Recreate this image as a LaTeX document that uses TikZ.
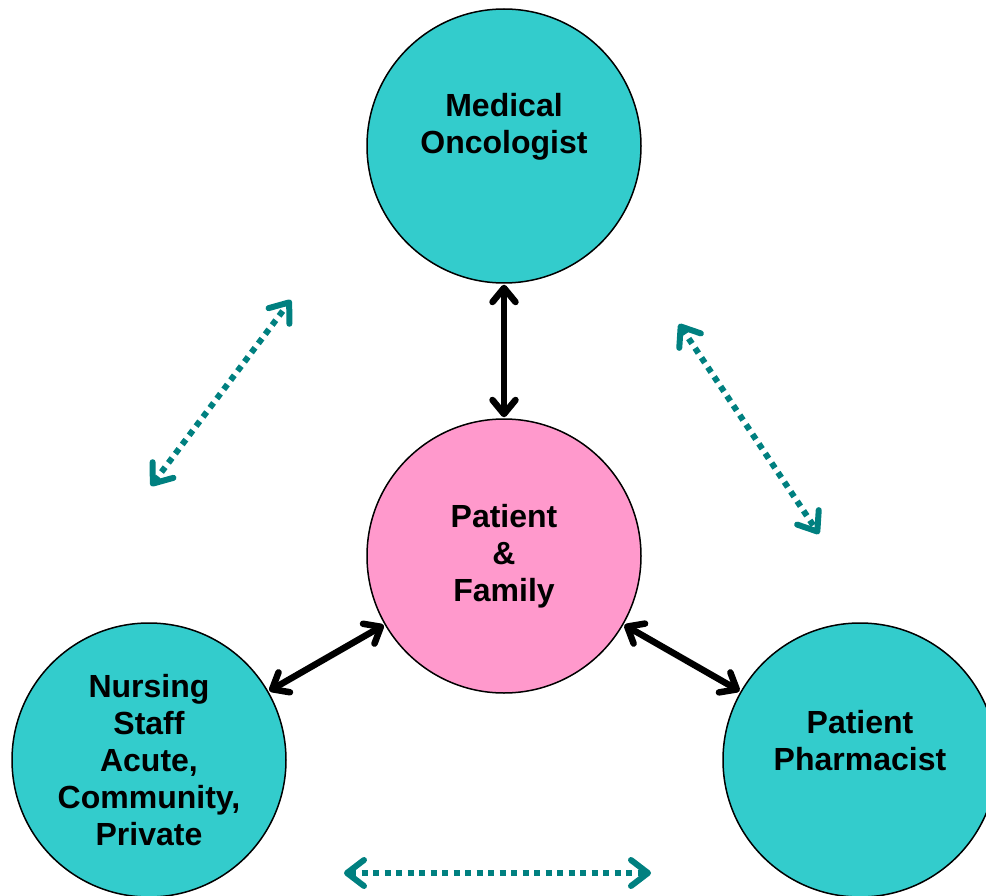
\documentclass[tikz,border=0pt]{standalone}
\usepackage{fontspec}
\setmainfont{Liberation Sans}
\usepackage{tikz}
\usepackage{xcolor}
\usetikzlibrary{positioning,arrows.meta}

\definecolor{teamcyan}{HTML}{33CCCC}
\definecolor{patpink}{HTML}{FF99CC}
\definecolor{linkteal}{HTML}{008080}

\begin{document}
\begin{tikzpicture}[x=1pt,y=-1pt]
\tikzstyle{every node}+=[inner sep=0pt, align=center, font=\fontsize{32}{37}\selectfont\bfseries]
\tikzstyle{member}=[circle, draw=black, line width=1.5pt, minimum size=274pt]
\tikzstyle{care}=[line width=6.5pt, {Straight Barb[length=14pt,width=23pt,line cap=round,line join=round]}-{Straight Barb[length=14pt,width=23pt,line cap=round,line join=round]}, shorten <=1pt, shorten >=1pt]
\tikzstyle{link}=[linkteal, line width=6pt, dash pattern=on 6pt off 5.5pt, {Straight Barb[length=17pt,width=26pt,line cap=round,line join=round]}-{Straight Barb[length=17pt,width=26pt,line cap=round,line join=round]}]
\useasboundingbox (0,0) rectangle (986,896);
% the team
\node [member, fill=teamcyan] (onc) at (504,146) {};
\node at ([yshift=19pt]onc.center) {Medical\\Oncologist};
\node [member, fill=patpink] (pat) at (504,556) {Patient\\\&\\Family};
\node [member, fill=teamcyan] (nurse) at (149,760) {Nursing\\Staff\\Acute,\\Community,\\Private};
\node [member, fill=teamcyan] (pharm) at (860,760) {};
\node at ([yshift=19pt]pharm.center) {Patient\\Pharmacist};
% patient links
\draw [care] (onc) -- (pat);
\draw [care] (pat) -- (nurse);
\draw [care] (pat) -- (pharm);
% links between the team
\coordinate (l1) at (151,486);
\coordinate (l2) at (291,300);
\coordinate (r1) at (679,324);
\coordinate (r2) at (819,534);
\coordinate (b1) at (344,873);
\coordinate (b2) at (651,873);
\draw [link] (l1) -- (l2);
\draw [link] (r1) -- (r2);
\draw [link] (b1) -- (b2);
\end{tikzpicture}
\end{document}
